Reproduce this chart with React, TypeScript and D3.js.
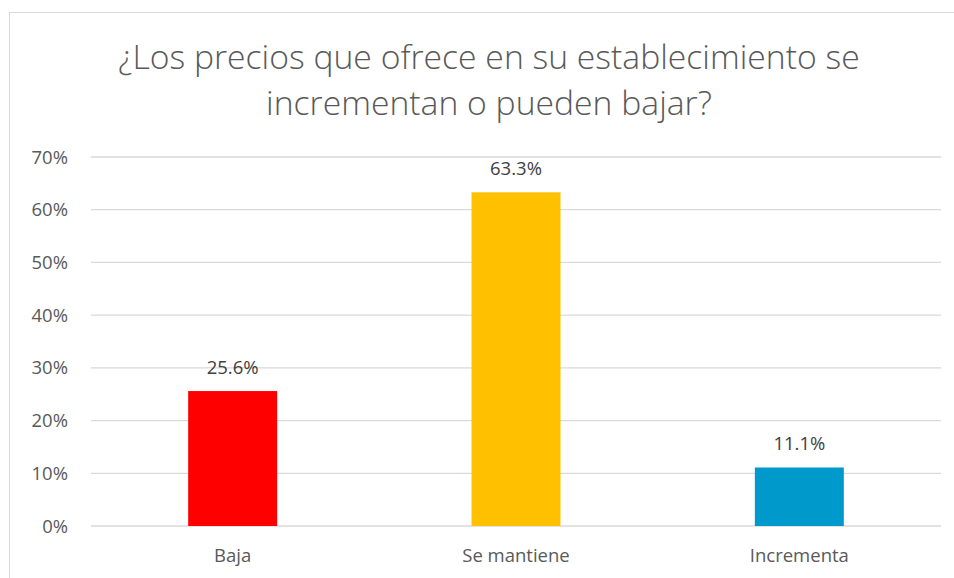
import React from "react";
import * as d3 from "d3";

const categories = ["Baja", "Se mantiene", "Incrementa"];
const values = [0.256, 0.633, 0.111];
const colors = ["#FF0000", "#FFC000", "#0099CC"];
const yTicks = [0, 0.1, 0.2, 0.3, 0.4, 0.5, 0.6, 0.7];
const titleLines = ["¿Los precios que ofrece en su establecimiento se", "incrementan o pueden bajar?"];

export default function App() {
  const W = 954, H = 578;
  const left = 91, right = 941, top = 157, bottom = 526;
  const x = d3.scaleBand().domain(categories).range([left, right]).paddingInner(0.686).paddingOuter(0.343);
  const y = d3.scaleLinear().domain([0, 0.7]).range([bottom, top]);
  const font = "'Open Sans', sans-serif";
  return (
    <svg width={W} height={H} style={{ position: "absolute", left: 0, top: 0 }} fontFamily={font}>
      <rect x={0} y={0} width={W} height={H} fill="#fff" />
      <rect x={9.5} y={12.5} width={W + 10} height={H + 10} fill="none" stroke="#d9d9d9" strokeWidth={1} />
      {titleLines.map((t, i) => (
        <text key={i} x={489} y={69 + i * 46} textAnchor="middle" fontSize={33.7} fontWeight={300} fill="#595959">{t}</text>
      ))}
      {yTicks.map((t) => (
        <g key={t}>
          <line x1={left} x2={right} y1={y(t)} y2={y(t)} stroke="#d9d9d9" strokeWidth={1.3} />
          <text x={68} y={y(t) + 6.5} textAnchor="end" fontSize={18.5} fill="#595959">{d3.format(".0%")(t)}</text>
        </g>
      ))}
      {categories.map((c, i) => (
        <g key={c}>
          <rect x={x(c)} y={y(values[i])} width={x.bandwidth()} height={bottom - y(values[i])} fill={colors[i]} />
          <text x={x(c)! + x.bandwidth() / 2} y={y(values[i]) - 17} textAnchor="middle" fontSize={18.5} fill="#404040">{d3.format(".1%")(values[i])}</text>
          <text x={x(c)! + x.bandwidth() / 2} y={562} textAnchor="middle" fontSize={18.5} fill="#595959">{c}</text>
        </g>
      ))}
    </svg>
  );
}
